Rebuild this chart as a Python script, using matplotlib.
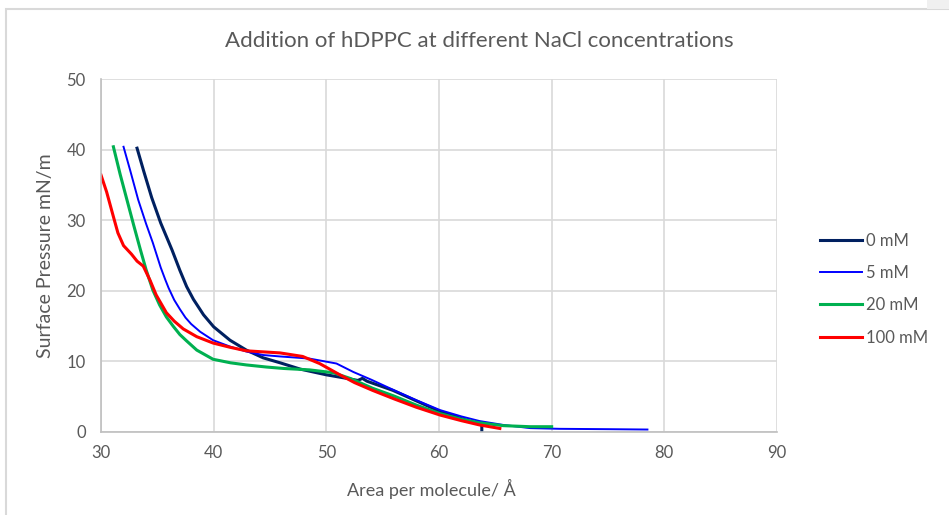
import matplotlib
matplotlib.use("Agg")
import matplotlib.pyplot as plt
from matplotlib.patches import Rectangle

plt.rcParams['font.family'] = ['Lato', 'DejaVu Sans']

# isotherm data: area per molecule vs surface pressure
area_0 = [33.2, 33.8, 34.5, 35.3, 36.3, 37.0, 37.6, 38.2, 39.1, 40.0, 41.45, 42.9, 44.4, 45.9,
          47.7, 50.0, 51.8, 52.8, 53.2, 53.6, 55.9, 58.0, 60.1, 62.0, 63.6, 63.8, 63.8]
pres_0 = [40.2, 36.9, 33.2, 29.6, 25.8, 22.9, 20.6, 18.8, 16.6, 14.9, 13.0, 11.6, 10.5, 9.8,
          8.9, 8.1, 7.6, 7.3, 7.6, 7.2, 5.9, 4.4, 2.9, 1.9, 1.1, 1.0, -0.5]

area_5 = [32.0, 32.6, 33.3, 34.0, 34.6, 35.3, 35.7, 36.0, 36.5, 37.0, 37.5, 38.0, 38.8, 39.95,
          41.45, 42.9, 44.4, 45.9, 48.5, 50.9, 52.4, 54.0, 55.9, 58.0, 60.1, 62.0, 63.6, 65.7,
          68.1, 70.7, 75.0, 78.5]
pres_5 = [40.4, 37.0, 32.9, 29.5, 26.8, 23.3, 21.6, 20.4, 18.7, 17.4, 16.2, 15.3, 14.2, 13.0,
          12.1, 11.4, 10.9, 10.7, 10.4, 9.7, 8.5, 7.4, 6.0, 4.5, 3.1, 2.2, 1.55, 1.0,
          0.55, 0.45, 0.4, 0.35]

area_20 = [31.1, 31.7, 32.3, 32.9, 33.5, 34.0, 34.6, 35.2, 35.8, 36.4, 37.0, 37.6, 38.5, 39.95,
           41.5, 42.9, 44.7, 46.2, 48.5, 50.6, 52.1, 54.1, 56.0, 58.0, 60.1, 62.0, 63.6, 65.7,
           68.1, 70.0]
pres_20 = [40.4, 36.5, 32.9, 29.3, 25.8, 23.0, 20.1, 18.0, 16.3, 15.0, 13.8, 12.9, 11.6, 10.3,
           9.8, 9.5, 9.2, 9.0, 8.8, 8.4, 7.6, 6.2, 5.1, 3.8, 2.6, 1.8, 1.3, 0.9, 0.75, 0.75]

area_100 = [30.0, 30.5, 31.1, 31.5, 32.0, 32.7, 33.2, 33.75, 34.35, 34.9, 35.8, 36.5, 37.3, 38.5,
            39.95, 41.45, 42.9, 45.9, 47.9, 49.4, 51.2, 52.5, 54.1, 56.0, 58.0, 60.1, 62.0,
            63.6, 65.4]
pres_100 = [36.4, 34.0, 30.5, 28.2, 26.4, 25.2, 24.2, 23.5, 21.5, 19.4, 16.9, 15.7, 14.6, 13.5,
            12.6, 12.0, 11.5, 11.2, 10.7, 9.7, 8.1, 7.0, 5.9, 4.7, 3.5, 2.4, 1.6, 1.0, 0.5]

x_ticks = [30, 40, 50, 60, 70, 80, 90]
y_ticks = [0, 10, 20, 30, 40, 50]

grey = '#595959'

fig = plt.figure(figsize=(9.49, 5.15), dpi=100)

# outer chart frame
fig.patches.append(Rectangle((6 / 949, -0.1), 1.2, (515 - 9) / 515 + 0.1,
                             transform=fig.transFigure, fill=False,
                             edgecolor='#d9d9d9', linewidth=1.5))
fig.patches.append(Rectangle((927 / 949, (515 - 9) / 515), 0.1, 0.1,
                             transform=fig.transFigure, facecolor='#f0f0f0',
                             edgecolor='none'))

ax = fig.add_axes([101 / 949, 83 / 515, 676 / 949, 353 / 515])

ax.plot(area_0, pres_0, color='#002060', lw=2.2, label='0 mM')
ax.plot(area_5, pres_5, color='#0000ff', lw=1.4, label='5 mM')
ax.plot(area_20, pres_20, color='#00b050', lw=2.2, label='20 mM')
ax.plot(area_100, pres_100, color='#ff0000', lw=2.2, label='100 mM')

ax.set_xlim(30, 90)
ax.set_ylim(0, 50)
ax.set_xticks(x_ticks)
ax.set_yticks(y_ticks)
ax.grid(True, color='#d9d9d9', lw=1.2)
ax.set_axisbelow(True)
for s in ['top', 'right']:
    ax.spines[s].set_visible(False)
for s in ['left', 'bottom']:
    ax.spines[s].set_color('#bfbfbf')
    ax.spines[s].set_linewidth(1.2)
ax.tick_params(length=0, labelsize=12, labelcolor=grey)
ax.tick_params(axis='y', pad=11)
ax.tick_params(axis='x', pad=9)

# chart title is centred on the whole chart area, not the plot
fig.text(479 / 949, 1 - 41 / 515, 'Addition of hDPPC at different NaCl concentrations',
         fontsize=16, color=grey, ha='center', va='center')
ax.set_xlabel('Area per molecule/ Å', fontsize=13, color=grey)
ax.xaxis.set_label_coords(0.488, -0.132)
ax.set_ylabel('Surface Pressure mN/m', fontsize=14, color=grey, labelpad=9)

ax.legend(loc='center left', bbox_to_anchor=(1.0636, 0.405), frameon=False,
          fontsize=12, labelcolor=grey, handlelength=2.5, handletextpad=0.25,
          labelspacing=0.98, borderpad=0, borderaxespad=0)

fig.savefig('out.png', dpi=100)
